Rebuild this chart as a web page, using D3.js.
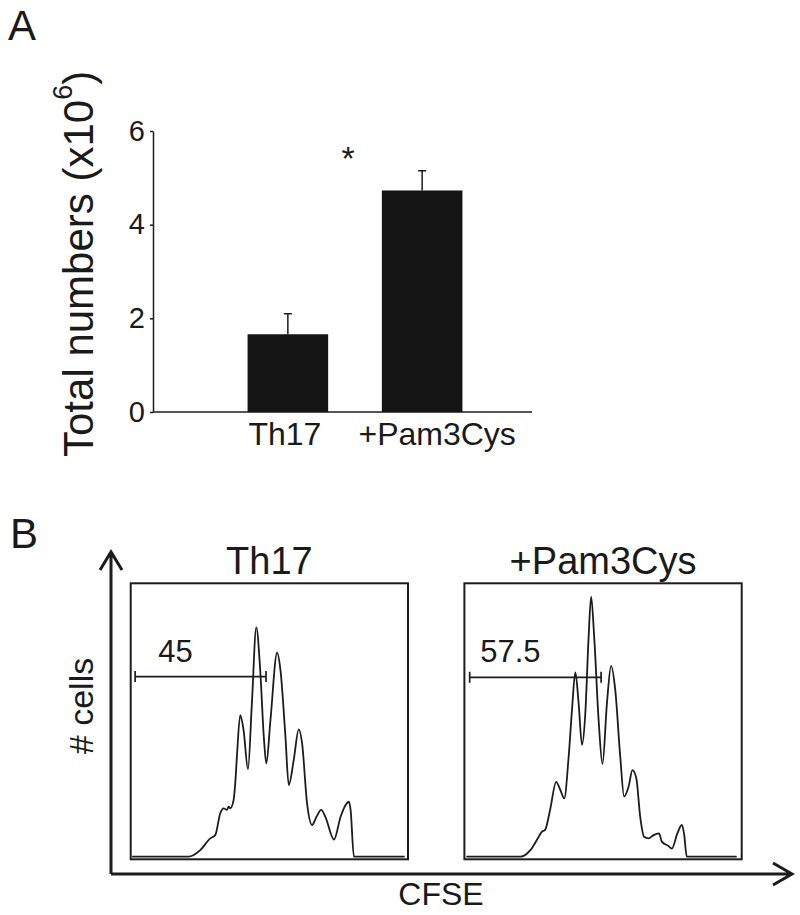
<!DOCTYPE html>
<html>
<head>
<meta charset="utf-8">
<script src="https://cdn.jsdelivr.net/npm/d3@7"></script>
<style>
  body { margin: 0; background: #fff; }
  text { font-family: "Liberation Sans", Arial, sans-serif; fill: #1a1a1a; }
</style>
</head>
<body>
<div id="chart"></div>
<script>
// data
var groups = ['Th17', '+Pam3Cys']
var totals = [1.66, 4.73]        // x10^6 cells
var totalsSem = [0.44, 0.42]
var yTicks = [0, 2, 4, 6]

// CFSE histograms: [CFSE (% of plot width), # cells (% of plot height)]
var th17Hist = [
  [0.5, 0], [20.8, 0], [25.1, 2.4], [28.7, 6.7], [30.5, 7.9], [32.3, 15.9], [33.5, 17.7],
  [34.7, 17.1], [35.3, 18.3], [35.9, 17.7], [37.1, 20.7], [37.7, 26.8], [38.3, 36.6],
  [39.5, 51.8], [40.7, 46.3], [42.3, 32.0], [43.7, 56.1], [45.3, 83.9], [46.7, 68.3],
  [48.0, 43.9], [48.9, 34.1], [50.4, 50.0], [52.8, 74.6], [54.0, 68.3], [55.8, 43.9],
  [57.0, 26.2], [58.8, 35.4], [60.6, 46.6], [61.8, 41.5], [63.6, 19.5], [65.4, 11.6],
  [67.0, 14.6], [68.7, 17.1], [70.2, 14.6], [73.3, 6.3], [75.7, 14.6], [77.5, 18.9],
  [78.7, 20.1], [79.3, 17.1], [80.5, 0], [98.8, 0]
]
var pamHist = [
  [0.7, 0], [20.2, 0], [23.8, 2.4], [26.8, 7.3], [27.9, 9.1], [29.1, 9.8], [30.9, 17.1],
  [33.1, 27.4], [34.6, 24.4], [36.0, 21.3], [37.6, 36.6], [38.8, 53.7], [40.0, 67.4],
  [41.2, 56.1], [42.4, 40.9], [43.6, 52.4], [44.8, 80.5], [45.7, 95.1], [46.8, 80.5],
  [48.4, 50.0], [49.8, 33.9], [51.4, 56.1], [52.9, 69.8], [54.4, 61.0], [56.2, 36.6],
  [57.6, 22.0], [59.2, 25.6], [60.6, 31.7], [62.0, 28.7], [63.4, 14.6], [64.8, 7.3],
  [66.4, 6.7], [68.2, 7.9], [70.2, 8.5], [71.2, 5.5], [73.6, 3.9], [74.8, 3.0],
  [76.8, 8.5], [78.4, 11.6], [79.2, 8.5], [80.2, 0], [98.2, 0]
]
var gateStart = [1.6, 1.9]
var gateEnd = [48.8, 49.3]
var gateLevel = [65.9, 65.6]
var gateLabels = ['45', '57.5']

const svgWidth = 800
const svgHeight = 915
const ink = '#1c1c1c'

var svg = d3.select('#chart').append('svg')
  .attr('width', svgWidth)
  .attr('height', svgHeight)

// ---------- panel A ----------
svg.append('text').attr('x', 8).attr('y', 40)
  .style('font-size', '42px').text('A')

const y = d3.scaleLinear().domain([0, 6]).range([412, 131])
const x = d3.scaleBand().domain(groups).range([214, 496])
  .paddingInner(0.4).paddingOuter(0.25)

var graphA = svg.append('g')

// y axis
var yAxisGroup = graphA.append('g')
  .attr('transform', 'translate(153, 0)')
  .call(d3.axisLeft(y).tickValues(yTicks).tickFormat(d3.format('d'))
    .tickSize(3).tickSizeOuter(0).tickPadding(5))
yAxisGroup.selectAll('path, line').attr('stroke', ink).attr('stroke-width', 1.5)
yAxisGroup.selectAll('text').style('font-size', '29px').attr('fill', ink)

// baseline
graphA.append('line')
  .attr('x1', 153).attr('x2', 532)
  .attr('y1', y(0)).attr('y2', y(0))
  .attr('stroke', ink).attr('stroke-width', 1.5)

// category labels
var xAxisGroup = graphA.append('g')
  .attr('transform', `translate(0, ${y(0)})`)
  .call(d3.axisBottom(x).tickSize(0).tickPadding(10))
xAxisGroup.select('.domain').remove()
xAxisGroup.selectAll('text').style('font-size', '32px').attr('fill', ink)
  .attr('dx', (d, i) => i === 0 ? -3 : 15)

// y title
var yTitle = graphA.append('text')
  .attr('transform', 'translate(93, 457) rotate(-90)')
  .style('font-size', '42px')
yTitle.append('tspan').text('Total numbers (x10')
yTitle.append('tspan').attr('dy', -21).style('font-size', '27px').text('6')
yTitle.append('tspan').attr('dy', 21).text(')')

// error bars
graphA.selectAll('.err')
  .data(groups)
  .enter().append('path')
  .attr('class', 'err')
  .attr('fill', 'none').attr('stroke', ink).attr('stroke-width', 1.5)
  .attr('d', (d, i) => {
    const cx = x(d) + x.bandwidth() / 2
    const top = y(totals[i] + totalsSem[i])
    return `M${cx},${y(totals[i])}V${top}M${cx - 4},${top}H${cx + 4}`
  })

// bars
graphA.selectAll('.bar')
  .data(groups)
  .enter().append('rect')
  .attr('class', 'bar')
  .attr('x', d => x(d))
  .attr('width', x.bandwidth())
  .attr('y', (d, i) => y(totals[i]))
  .attr('height', (d, i) => y(0) - y(totals[i]))
  .attr('fill', '#141414')

// significance
graphA.append('text')
  .attr('x', (x(groups[0]) + x(groups[1]) + x.bandwidth()) / 2 - 7)
  .attr('y', y(5.6) + 20)
  .attr('text-anchor', 'middle')
  .style('font-size', '34px')
  .text('*')

// ---------- panel B ----------
svg.append('text').attr('x', 10).attr('y', 548)
  .style('font-size', '42px').text('B')

const boxTop = 583.3
const boxBottom = 859.3
const histBase = 856.7
const panelX = d3.scaleBand().domain(groups).range([130.7, 741.7]).paddingInner(0.169)
const yC = d3.scaleLinear().domain([0, 100]).range([histBase, boxTop])
const hists = [th17Hist, pamHist]

groups.forEach((g, i) => {
  const bx = panelX(g)
  const bw = panelX.bandwidth()
  const xC = d3.scaleLinear().domain([0, 100]).range([bx, bx + bw])
  const panel = svg.append('g')

  panel.append('rect')
    .attr('x', bx).attr('y', boxTop)
    .attr('width', bw).attr('height', boxBottom - boxTop)
    .attr('fill', 'none').attr('stroke', ink).attr('stroke-width', 2)

  panel.append('text')
    .attr('x', bx + bw / 2).attr('y', 574)
    .attr('text-anchor', 'middle')
    .style('font-size', '38px')
    .text(g)

  const line = d3.line()
    .x(d => xC(d[0]))
    .y(d => yC(d[1]))
    .curve(d3.curveMonotoneX)

  panel.append('path')
    .datum(hists[i])
    .attr('d', line)
    .attr('fill', 'none').attr('stroke', ink)
    .attr('stroke-width', 1.8).attr('stroke-linejoin', 'round')

  // gate
  const gy = yC(gateLevel[i])
  const g0 = xC(gateStart[i])
  const g1 = xC(gateEnd[i])
  panel.append('path')
    .attr('d', `M${g0},${gy}H${g1}M${g0},${gy - 5.5}V${gy + 5.5}M${g1},${gy - 5.5}V${gy + 5.5}`)
    .attr('fill', 'none').attr('stroke', ink).attr('stroke-width', 1.7)

  panel.append('text')
    .attr('x', (g0 + g1) / 2 - 25).attr('y', gy - 15)
    .attr('text-anchor', 'middle')
    .style('font-size', '31px')
    .text(gateLabels[i])
})

// axes arrows
var arrows = svg.append('g')
  .attr('fill', 'none').attr('stroke', ink).attr('stroke-width', 3)
arrows.append('path').attr('d', 'M111,874V552M100,570L111,552L122,570')
arrows.append('path').attr('d', 'M111,874H792M773,863L792,874L773,885')

svg.append('text')
  .attr('transform', 'translate(93, 706) rotate(-90)')
  .attr('text-anchor', 'middle')
  .style('font-size', '34px')
  .text('# cells')

svg.append('text')
  .attr('x', 441).attr('y', 905)
  .attr('text-anchor', 'middle')
  .style('font-size', '32px')
  .text('CFSE')
</script>
</body>
</html>
